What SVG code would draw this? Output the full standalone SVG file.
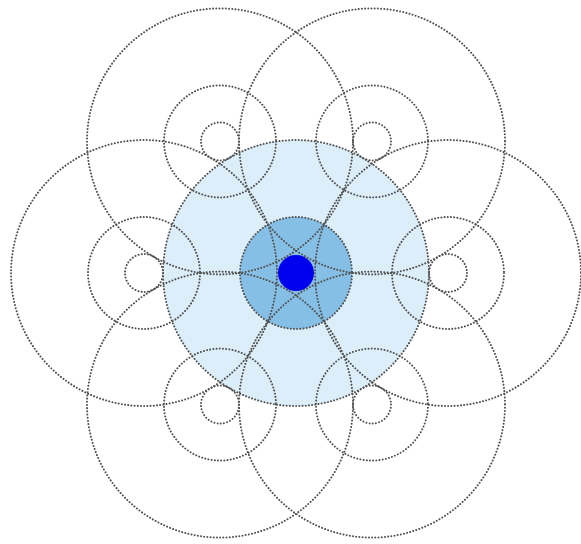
<svg xmlns="http://www.w3.org/2000/svg" width="581" height="544" viewBox="0 0 581 544">
  <style>
    .dot { fill: none; stroke: #505050; stroke-width: 2; stroke-dasharray: 0.01 3.2; stroke-linecap: round; }
    .outer { fill: #dceefa; }
    .mid { fill: #86bfe6; }
    .core { fill: #0000ee; }
  </style>
  <rect width="581" height="544" fill="#ffffff"/>
  <g id="center-fills">
    <circle class="outer" cx="296" cy="273" r="133"/>
    <circle class="mid" cx="296" cy="273" r="56"/>
    <circle class="core" cx="296" cy="273" r="18"/>
  </g>
  <g id="node-center">
    <circle class="dot" cx="296" cy="273" r="133"/>
    <circle class="dot" cx="296" cy="273" r="56"/>
  </g>
  <g id="node-left">
    <circle class="dot" cx="144" cy="273" r="133"/>
    <circle class="dot" cx="144" cy="273" r="56"/>
    <circle class="dot" cx="144" cy="273" r="19"/>
  </g>
  <g id="node-right">
    <circle class="dot" cx="448" cy="273" r="133"/>
    <circle class="dot" cx="448" cy="273" r="56"/>
    <circle class="dot" cx="448" cy="273" r="19"/>
  </g>
  <g id="node-top-left">
    <circle class="dot" cx="220" cy="141.4" r="133"/>
    <circle class="dot" cx="220" cy="141.4" r="56"/>
    <circle class="dot" cx="220" cy="141.4" r="19"/>
  </g>
  <g id="node-top-right">
    <circle class="dot" cx="372" cy="141.4" r="133"/>
    <circle class="dot" cx="372" cy="141.4" r="56"/>
    <circle class="dot" cx="372" cy="141.4" r="19"/>
  </g>
  <g id="node-bottom-left">
    <circle class="dot" cx="220" cy="404.6" r="133"/>
    <circle class="dot" cx="220" cy="404.6" r="56"/>
    <circle class="dot" cx="220" cy="404.6" r="19"/>
  </g>
  <g id="node-bottom-right">
    <circle class="dot" cx="372" cy="404.6" r="133"/>
    <circle class="dot" cx="372" cy="404.6" r="56"/>
    <circle class="dot" cx="372" cy="404.6" r="19"/>
  </g>
  <g id="connectors"></g>
</svg>
